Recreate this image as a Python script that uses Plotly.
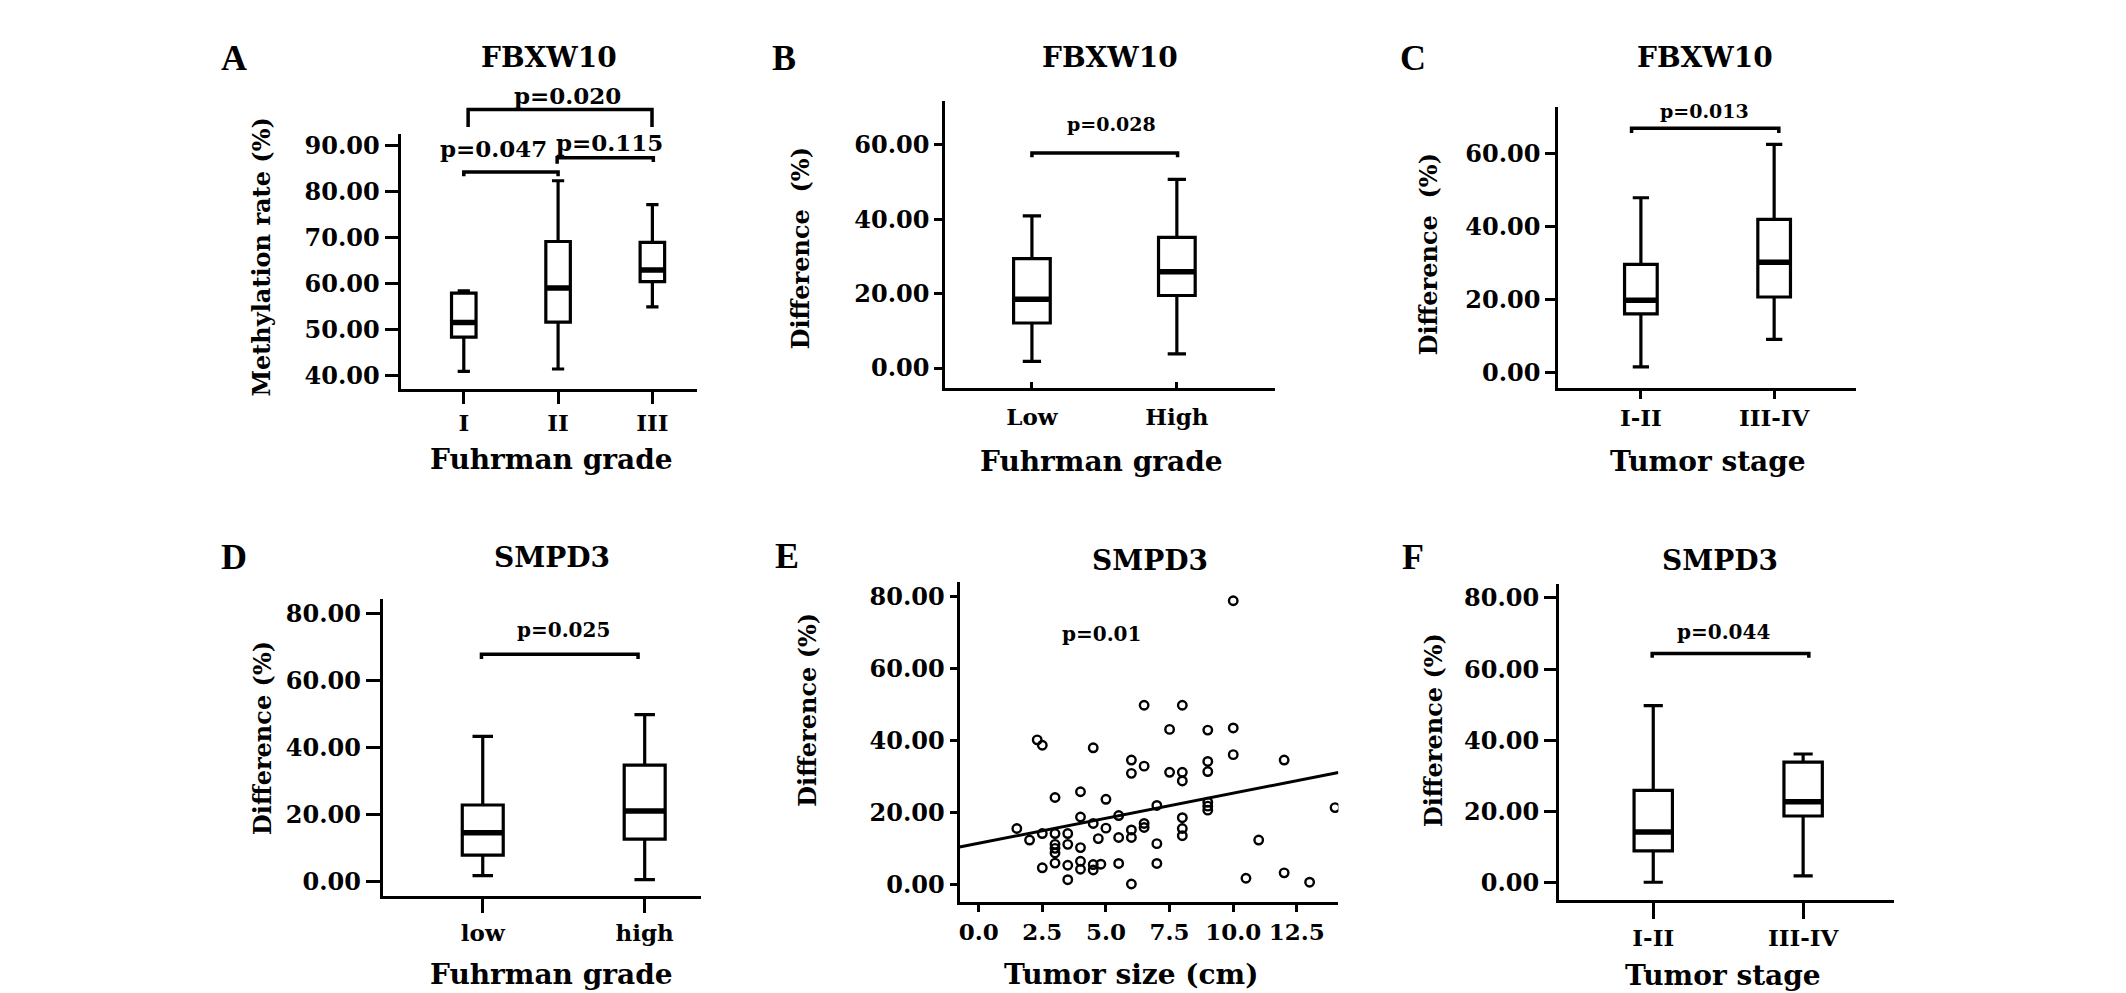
import plotly.graph_objects as go

W, H = 2126, 993

# ---------------- data ----------------
# Panel A: FBXW10 methylation rate by Fuhrman grade
a_cats = ["I", "II", "III"]
a_low = [40.9, 41.4, 54.9]
a_q1 = [48.3, 51.6, 60.4]
a_med = [51.5, 59.0, 62.9]
a_q3 = [57.9, 69.1, 68.9]
a_high = [58.4, 82.3, 77.1]

# Panel B: FBXW10 difference by Fuhrman grade
b_cats = ["Low", "High"]
b_low = [1.8, 3.8]
b_q1 = [12.1, 19.5]
b_med = [18.5, 25.9]
b_q3 = [29.4, 35.1]
b_high = [40.9, 50.7]

# Panel C: FBXW10 difference by tumor stage
c_cats = ["I-II", "III-IV"]
c_low = [1.6, 9.1]
c_q1 = [16.1, 20.7]
c_med = [19.8, 30.2]
c_q3 = [29.6, 41.9]
c_high = [47.8, 62.4]

# Panel D: SMPD3 difference by Fuhrman grade
d_cats = ["low", "high"]
d_low = [1.7, 0.5]
d_q1 = [7.8, 12.6]
d_med = [14.5, 21.0]
d_q3 = [22.8, 34.7]
d_high = [43.3, 49.8]

# Panel F: SMPD3 difference by tumor stage
f_cats = ["I-II", "III-IV"]
f_low = [0.2, 2.0]
f_q1 = [9.0, 18.8]
f_med = [14.3, 22.8]
f_q3 = [26.0, 33.9]
f_high = [49.8, 36.2]

# Panel E: SMPD3 difference vs tumor size (cm)
e_size = [10, 6.5, 8, 7.5, 9, 10, 2.3, 2.5, 4.5, 10,
          6, 6.5, 9, 12, 6, 7.5, 8, 8, 9, 3,
          4, 5, 7, 9, 9, 9, 4, 5.5, 8, 1.5,
          4.5, 5, 6.5, 6.5, 6, 8, 8, 2, 2.5, 3,
          3.5, 4.7, 5.5, 6, 3, 3, 3, 3.5, 4, 7,
          11, 2.5, 3, 3.5, 4, 4, 4.5, 4.5, 4.8, 5.5,
          7, 3.5, 6, 10.5, 12, 14, 13]
e_diff = [78.8, 49.8, 49.8, 43.1, 42.9, 43.5, 40.2, 38.7, 38.0, 36.1,
          34.6, 32.9, 34.2, 34.6, 30.9, 31.2, 31.2, 28.8, 31.4, 24.2,
          25.8, 23.7, 22.0, 22.9, 21.8, 20.7, 18.8, 19.2, 18.6, 15.6,
          17.0, 15.7, 17.0, 15.9, 15.2, 15.6, 13.6, 12.4, 14.2, 14.2,
          14.2, 12.8, 13.1, 13.1, 11.2, 10.1, 8.8, 11.2, 10.3, 11.4,
          12.4, 4.7, 6.0, 5.4, 6.5, 4.3, 5.6, 4.1, 5.7, 5.9,
          5.9, 1.4, 0.2, 1.8, 3.3, 21.4, 0.7]
e_fit_intercept = 11.5
e_fit_slope = 1.39
e_pvalue = "p=0.01"

# tick labels
a_yticks = [40, 50, 60, 70, 80, 90]
b_yticks = [0, 20, 40, 60]
c_yticks = [0, 20, 40, 60]
d_yticks = [0, 20, 40, 60, 80]
e_yticks = [0, 20, 40, 60, 80]
f_yticks = [0, 20, 40, 60, 80]
e_xticks = [0.0, 2.5, 5.0, 7.5, 10.0, 12.5]

# significance brackets: (from, to, height, drop_left, drop_right, label, label_x, label_y)
a_brackets = [(0.0, 1.0, 84.2, 83.3, 83.3, "p=0.047", 0.32, 89.3),
              (0.99, 2.01, 87.3, 86.0, 86.4, "p=0.115", 1.55, 90.7),
              (0.046, 1.996, 97.8, 94.0, 94.0, "p=0.020", 1.10, 100.8)]
b_brackets = [(0.0, 1.005, 57.8, 56.7, 56.7, "p=0.028", 0.55, 65.6)]
c_brackets = [(-0.07, 1.035, 66.8, 65.5, 65.5, "p=0.013", 0.48, 71.6)]
d_brackets = [(-0.008, 0.959, 67.8, 66.4, 66.4, "p=0.025", 0.50, 75.0)]
f_brackets = [(-0.007, 1.038, 64.4, 63.2, 63.2, "p=0.044", 0.467, 70.3)]

# ---------------- layout geometry (pixels) ----------------
P = {
    "A": dict(i=1, l=391.7, r=688.3, t=123.3, b=379.3, xr=[-0.671, 2.473], yr=[37.1, 92.5],
              ylen=13, xlen=12, xticks="outside"),
    "B": dict(i=2, l=936.7, r=1267.0, t=90.7, b=379.0, xr=[-0.598, 1.68], yr=[-5.5, 71.7],
              ylen=8, xlen=6, xticks="inside"),
    "C": dict(i=3, l=1550.0, r=1848.3, t=96.0, b=378.3, xr=[-0.62, 1.6175], yr=[-4.1, 72.7],
              ylen=10, xlen=8, xticks="outside"),
    "D": dict(i=4, l=374.0, r=692.7, t=590.7, b=889.0, xr=[-0.617, 1.35], yr=[-4.5, 84.2],
              ylen=14, xlen=14, xticks="outside"),
    "E": dict(i=5, l=951.0, r=1330.0, t=573.3, b=895.0, xr=[-0.75, 14.13], yr=[-4.9, 84.0],
              ylen=7, xlen=7, xticks="outside"),
    "F": dict(i=6, l=1550.7, r=1886.0, t=575.0, b=892.3, xr=[-0.629, 1.607], yr=[-4.7, 84.0],
              ylen=12, xlen=16, xticks="outside"),
}

FONT = "DejaVu Serif"
LETTER_FONT = "Liberation Serif"


def to_paper(p, x, y):
    g = P[p]
    px = g["l"] + (x - g["xr"][0]) / (g["xr"][1] - g["xr"][0]) * (g["r"] - g["l"])
    py = g["b"] - (y - g["yr"][0]) / (g["yr"][1] - g["yr"][0]) * (g["b"] - g["t"])
    return px / W, 1 - py / H


fig = go.Figure()
shapes = []
annotations = []


def add_box_panel(p, cats, low, q1, med, q3, high, width):
    i = P[p]["i"]
    xs = list(range(len(cats)))
    fig.add_trace(go.Box(
        x=xs, q1=q1, median=med, q3=q3, lowerfence=low, upperfence=high,
        width=width, whiskerwidth=0.5, fillcolor="white",
        line=dict(color="black", width=3.2), boxpoints=False,
        xaxis=f"x{i}", yaxis=f"y{i}", showlegend=False, hoverinfo="skip"))
    mx, my = [], []
    for k, m in enumerate(med):
        mx += [k - width / 2 - 0.005, k + width / 2 + 0.005, None]
        my += [m, m, None]
    fig.add_trace(go.Scatter(x=mx, y=my, mode="lines", line=dict(color="black", width=5.5),
                             xaxis=f"x{i}", yaxis=f"y{i}", showlegend=False, hoverinfo="skip"))


def add_brackets(p, brackets, size):
    for (x0, x1, h, d0, d1, lab, lx, ly) in brackets:
        ax0, ay0 = to_paper(p, x0, d0)
        ax0b, ayh = to_paper(p, x0, h)
        ax1, ay1 = to_paper(p, x1, d1)
        path = f"M {ax0},{ay0} L {ax0},{ayh} L {ax1},{ayh} L {ax1},{ay1}"
        shapes.append(dict(type="path", xref="paper", yref="paper", path=path,
                           line=dict(color="black", width=3.5)))
        tx, ty = to_paper(p, lx, ly)
        annotations.append(dict(x=tx, y=ty, xref="paper", yref="paper", text=lab,
                                showarrow=False, xanchor="center", yanchor="middle",
                                font=dict(family=FONT, size=size, color="black", weight="bold")))


add_box_panel("A", a_cats, a_low, a_q1, a_med, a_q3, a_high, 0.26)
add_box_panel("B", b_cats, b_low, b_q1, b_med, b_q3, b_high, 0.253)
add_box_panel("C", c_cats, c_low, c_q1, c_med, c_q3, c_high, 0.245)
add_box_panel("D", d_cats, d_low, d_q1, d_med, d_q3, d_high, 0.253)
add_box_panel("F", f_cats, f_low, f_q1, f_med, f_q3, f_high, 0.256)

add_brackets("A", a_brackets, 23)
add_brackets("B", b_brackets, 19)
add_brackets("C", c_brackets, 19)
add_brackets("D", d_brackets, 20)
add_brackets("F", f_brackets, 20)

# Panel E scatter + regression line
fig.add_trace(go.Scatter(x=e_size, y=e_diff, mode="markers",
                         marker=dict(symbol="circle-open", size=8.5, color="black",
                                     line=dict(color="black", width=2.4)),
                         xaxis="x5", yaxis="y5", showlegend=False, hoverinfo="skip"))
fx = P["E"]["xr"]
fig.add_trace(go.Scatter(x=fx, y=[e_fit_intercept + e_fit_slope * v for v in fx], mode="lines",
                         line=dict(color="black", width=3),
                         xaxis="x5", yaxis="y5", showlegend=False, hoverinfo="skip"))
tx, ty = to_paper("E", 4.83, 69.6)
annotations.append(dict(x=tx, y=ty, xref="paper", yref="paper", text=e_pvalue, showarrow=False,
                        xanchor="center", yanchor="middle",
                        font=dict(family=FONT, size=20, color="black", weight="bold")))

# ---------------- axes ----------------
cats_of = {"A": a_cats, "B": b_cats, "C": c_cats, "D": d_cats, "F": f_cats}
yticks_of = {"A": a_yticks, "B": b_yticks, "C": c_yticks, "D": d_yticks, "E": e_yticks, "F": f_yticks}
ytickfont = dict(family=FONT, size=24, color="black", weight="bold")
xtickfont = dict(family=FONT, size=23, color="black", weight="bold")
layout_axes = {}
for p, g in P.items():
    i = g["i"]
    xa = dict(domain=[g["l"] / W, g["r"] / W], range=g["xr"], anchor=f"y{i}",
              showline=True, linecolor="black", linewidth=3, ticks=g["xticks"], ticklen=g["xlen"],
              tickwidth=3, tickcolor="black", showgrid=False, zeroline=False, tickfont=xtickfont,
              fixedrange=True)
    if p == "E":
        xa.update(tickvals=e_xticks, tickformat=".1f")
    else:
        xa.update(tickvals=list(range(len(cats_of[p]))), ticktext=cats_of[p])
    if g["xticks"] == "inside":
        xa.update(ticklabelstandoff=6)
    ya = dict(domain=[1 - g["b"] / H, 1 - g["t"] / H], range=g["yr"], anchor=f"x{i}",
              showline=True, linecolor="black", linewidth=3, ticks="outside", ticklen=g["ylen"],
              tickwidth=3, tickcolor="black", showgrid=False, zeroline=False, tickfont=ytickfont,
              tickvals=yticks_of[p], tickformat=".2f", fixedrange=True)
    sfx = "" if i == 1 else str(i)
    layout_axes[f"xaxis{sfx}"] = xa
    layout_axes[f"yaxis{sfx}"] = ya


def txt(x, y, s, size, family=FONT, angle=0):
    annotations.append(dict(x=x / W, y=1 - y / H, xref="paper", yref="paper", text=s,
                            showarrow=False, xanchor="center", yanchor="middle", textangle=angle,
                            font=dict(family=family, size=size, color="black", weight="bold")))


# panel letters
for s, x, y in [("A", 225, 47), ("B", 775, 47), ("C", 1405, 47),
                ("D", 225, 548), ("E", 778, 547), ("F", 1405, 548)]:
    txt(x, y, s, 36, LETTER_FONT)

# panel titles
for s, x, y in [("FBXW10", 540, 47), ("FBXW10", 1101.7, 47), ("FBXW10", 1696.7, 47),
                ("SMPD3", 543, 549), ("SMPD3", 1142, 552), ("SMPD3", 1711.7, 552)]:
    txt(x, y, s, 28)

# y-axis titles
for s, x, y in [("Methylation rate (%)", 253, 246.7), ("Difference\u00a0 (%)", 791.7, 238),
                ("Difference\u00a0 (%)", 1420, 244), ("Difference (%)", 253, 730),
                ("Difference (%)", 799, 702), ("Difference (%)", 1425, 721.7)]:
    txt(x, y, s, 24, angle=-90)

# x-axis titles
for s, x, y in [("Fuhrman grade", 543, 450), ("Fuhrman grade", 1093, 452),
                ("Tumor stage", 1700, 452), ("Fuhrman grade", 543, 967),
                ("Tumor size (cm)", 1123, 967), ("Tumor stage", 1715, 968)]:
    txt(x, y, s, 28)

fig.update_layout(width=W, height=H, margin=dict(l=0, r=0, t=0, b=0),
                  paper_bgcolor="white", plot_bgcolor="white", showlegend=False,
                  shapes=shapes, annotations=annotations, **layout_axes)

fig.write_html("out.html")
